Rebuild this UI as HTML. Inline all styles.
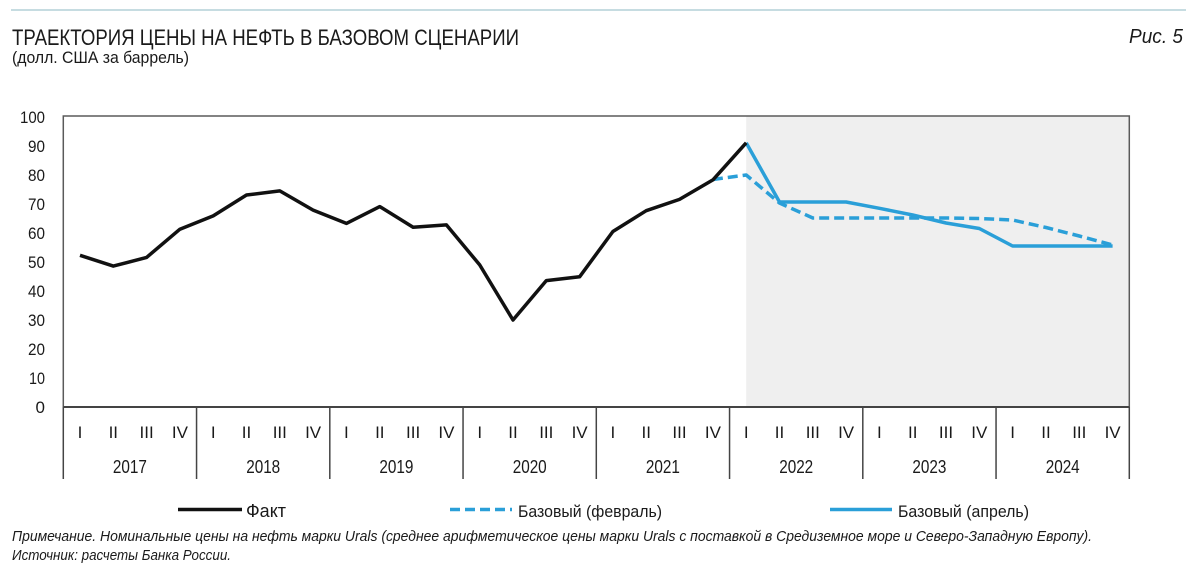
<!DOCTYPE html>
<html>
<head>
<meta charset="utf-8">
<style>
html,body{margin:0;padding:0;background:#fff;}
svg{display:block;}
text{font-family:"Liberation Sans","DejaVu Sans",sans-serif;fill:#1a1a1a;}
.it{font-style:italic;}
</style>
</head>
<body>
<svg width="1200" height="570" viewBox="0 0 1200 570" xmlns="http://www.w3.org/2000/svg">
  <!-- top rule -->
  <line x1="11" y1="10" x2="1186" y2="10" stroke="#b3d1d7" stroke-width="1.5"/>

  <!-- titles -->
  <text x="12" y="45" font-size="22.5" textLength="507" lengthAdjust="spacingAndGlyphs">ТРАЕКТОРИЯ ЦЕНЫ НА НЕФТЬ В БАЗОВОМ СЦЕНАРИИ</text>
  <text x="12" y="63" font-size="16.5" textLength="177" lengthAdjust="spacingAndGlyphs">(долл. США за баррель)</text>
  <text x="1129" y="43" font-size="20" class="it" textLength="54" lengthAdjust="spacingAndGlyphs">Рис. 5</text>

  <!-- shaded forecast area -->
  <rect x="746.2" y="116" width="383.1" height="291" fill="#efefef"/>

  <!-- plot frame -->
  <polyline points="63.3,407 63.3,116 1129.3,116 1129.3,407" fill="none" stroke="#5a5a5a" stroke-width="1.5"/>
  <line x1="63.3" y1="407" x2="1129.3" y2="407" stroke="#444" stroke-width="2"/>

  <!-- year separators -->
  <g stroke="#444" stroke-width="1.5">
    <line x1="63.3" y1="407" x2="63.3" y2="479"/>
    <line x1="196.55" y1="407" x2="196.55" y2="479"/>
    <line x1="329.8" y1="407" x2="329.8" y2="479"/>
    <line x1="463.05" y1="407" x2="463.05" y2="479"/>
    <line x1="596.3" y1="407" x2="596.3" y2="479"/>
    <line x1="729.55" y1="407" x2="729.55" y2="479"/>
    <line x1="862.8" y1="407" x2="862.8" y2="479"/>
    <line x1="996.05" y1="407" x2="996.05" y2="479"/>
    <line x1="1129.3" y1="407" x2="1129.3" y2="479"/>
  </g>

  <!-- y labels -->
  <g font-size="17" text-anchor="end">
    <text x="45" y="123" textLength="25" lengthAdjust="spacingAndGlyphs">100</text>
    <text x="45" y="152" textLength="17" lengthAdjust="spacingAndGlyphs">90</text>
    <text x="45" y="181" textLength="17" lengthAdjust="spacingAndGlyphs">80</text>
    <text x="45" y="210" textLength="17" lengthAdjust="spacingAndGlyphs">70</text>
    <text x="45" y="239" textLength="17" lengthAdjust="spacingAndGlyphs">60</text>
    <text x="45" y="268" textLength="17" lengthAdjust="spacingAndGlyphs">50</text>
    <text x="45" y="297" textLength="17" lengthAdjust="spacingAndGlyphs">40</text>
    <text x="45" y="326" textLength="17" lengthAdjust="spacingAndGlyphs">30</text>
    <text x="45" y="355" textLength="17" lengthAdjust="spacingAndGlyphs">20</text>
    <text x="45" y="384" textLength="16" lengthAdjust="spacingAndGlyphs">10</text>
    <text x="45" y="413">0</text>
  </g>

  <!-- quarter labels -->
  <g font-size="17" text-anchor="middle">
    <text x="80" y="438">I</text><text x="113.3" y="438">II</text><text x="146.6" y="438">III</text><text x="179.9" y="438">IV</text>
    <text x="213.2" y="438">I</text><text x="246.5" y="438">II</text><text x="279.8" y="438">III</text><text x="313.1" y="438">IV</text>
    <text x="346.4" y="438">I</text><text x="379.8" y="438">II</text><text x="413.1" y="438">III</text><text x="446.4" y="438">IV</text>
    <text x="479.7" y="438">I</text><text x="513" y="438">II</text><text x="546.3" y="438">III</text><text x="579.6" y="438">IV</text>
    <text x="612.9" y="438">I</text><text x="646.2" y="438">II</text><text x="679.5" y="438">III</text><text x="712.9" y="438">IV</text>
    <text x="746.2" y="438">I</text><text x="779.5" y="438">II</text><text x="812.8" y="438">III</text><text x="846.1" y="438">IV</text>
    <text x="879.4" y="438">I</text><text x="912.7" y="438">II</text><text x="946" y="438">III</text><text x="979.3" y="438">IV</text>
    <text x="1012.6" y="438">I</text><text x="1046" y="438">II</text><text x="1079.3" y="438">III</text><text x="1112.6" y="438">IV</text>
  </g>

  <!-- year labels -->
  <g font-size="18" text-anchor="middle">
    <text x="129.9" y="473" textLength="34" lengthAdjust="spacingAndGlyphs">2017</text>
    <text x="263.2" y="473" textLength="34" lengthAdjust="spacingAndGlyphs">2018</text>
    <text x="396.4" y="473" textLength="34" lengthAdjust="spacingAndGlyphs">2019</text>
    <text x="529.7" y="473" textLength="34" lengthAdjust="spacingAndGlyphs">2020</text>
    <text x="662.9" y="473" textLength="34" lengthAdjust="spacingAndGlyphs">2021</text>
    <text x="796.2" y="473" textLength="34" lengthAdjust="spacingAndGlyphs">2022</text>
    <text x="929.4" y="473" textLength="34" lengthAdjust="spacingAndGlyphs">2023</text>
    <text x="1062.7" y="473" textLength="34" lengthAdjust="spacingAndGlyphs">2024</text>
  </g>

  <!-- Feb baseline (dashed) -->
  <polyline fill="none" stroke="#2a9fd8" stroke-width="3.5" stroke-dasharray="10 5" stroke-linejoin="round"
    points="712.9,179.5 746.2,175 779.5,203 812.8,218 846.1,218 879.4,218 912.7,218 946,218 979.3,218.5 1012.6,220 1046,227.5 1079.3,236 1112.6,245"/>

  <!-- April baseline -->
  <polyline fill="none" stroke="#2a9fd8" stroke-width="3.5" stroke-linejoin="round"
    points="746.2,142.8 779.5,202 812.8,202 846.1,202 879.4,208.3 912.7,215 946,223 979.3,228.5 1012.6,246 1046,246 1079.3,246 1112.6,246"/>

  <!-- Fact -->
  <polyline fill="none" stroke="#111" stroke-width="3.5" stroke-linejoin="round"
    points="80,255.3 113.3,266.1 146.6,257.4 179.9,229.2 213.2,215.9 246.5,195 279.8,190.9 313.1,210.1 346.4,223.4 379.8,206.6 413.1,227.2 446.4,224.9 479.7,264.9 513,320 546.3,280.6 579.6,276.8 612.9,231.5 646.2,210.7 679.5,199.4 712.9,179.9 746.2,142.8"/>

  <!-- legend -->
  <line x1="178" y1="509.5" x2="242" y2="509.5" stroke="#111" stroke-width="3.5"/>
  <text x="246" y="517" font-size="18">Факт</text>
  <line x1="450" y1="509.5" x2="512" y2="509.5" stroke="#2a9fd8" stroke-width="3.5" stroke-dasharray="10 5"/>
  <text x="518" y="517" font-size="17" textLength="144" lengthAdjust="spacingAndGlyphs">Базовый (февраль)</text>
  <line x1="830" y1="509.5" x2="892" y2="509.5" stroke="#2a9fd8" stroke-width="3.5"/>
  <text x="898" y="517" font-size="17" textLength="131" lengthAdjust="spacingAndGlyphs">Базовый (апрель)</text>

  <!-- notes -->
  <text x="12" y="541" font-size="14.5" class="it" textLength="1080" lengthAdjust="spacingAndGlyphs">Примечание. Номинальные цены на нефть марки Urals (среднее арифметическое цены марки Urals с поставкой в Средиземное море и Северо-Западную Европу).</text>
  <text x="12" y="560" font-size="14.5" class="it" textLength="219" lengthAdjust="spacingAndGlyphs">Источник: расчеты Банка России.</text>
</svg>
</body>
</html>
